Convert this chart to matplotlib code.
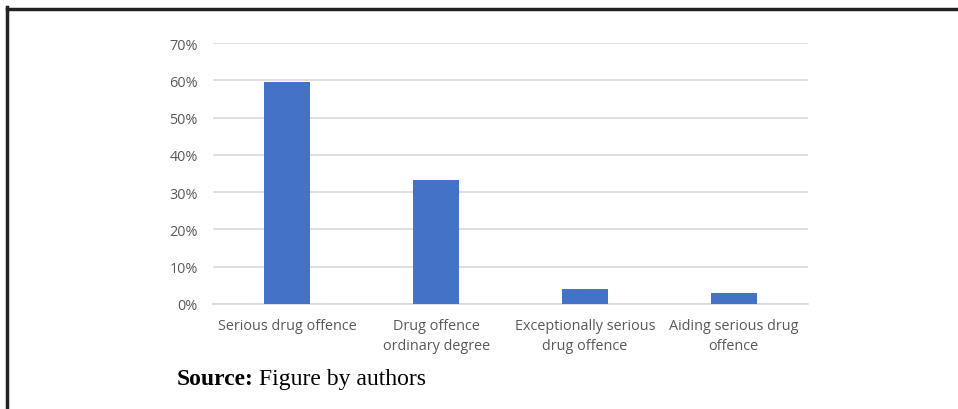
import matplotlib
matplotlib.use("Agg")
import matplotlib.pyplot as plt
from matplotlib.lines import Line2D
from matplotlib.ticker import PercentFormatter

# Datos
CATEGORIES = [
    "Serious drug offence",
    "Drug offence\nordinary degree",
    "Exceptionally serious\ndrug offence",
    "Aiding serious drug\noffence",
]
SHARES = [0.595, 0.333, 0.039, 0.029]
Y_TICKS = [0.0, 0.1, 0.2, 0.3, 0.4, 0.5, 0.6, 0.7]

BAR_COLOR = "#4472C4"
GRID_COLOR = "#D9D9D9"
TEXT_COLOR = "#595959"

W, H = 958, 410
fig = plt.figure(figsize=(W / 100, H / 100), dpi=100)
fig.patch.set_facecolor("white")

ax = fig.add_axes([213 / W, 1 - 305 / H, (808 - 213) / W, (305 - 44) / H])
x = range(len(CATEGORIES))
ax.bar(x, SHARES, width=0.31, color=BAR_COLOR, zorder=3)

ax.set_xlim(-0.5, len(CATEGORIES) - 0.5)
ax.set_ylim(0, 0.7)
ax.set_yticks(Y_TICKS)
ax.yaxis.set_major_formatter(PercentFormatter(1.0, decimals=0))
ax.set_xticks(list(x))
ax.set_xticklabels(CATEGORIES, linespacing=1.5)

for side in ["top", "right", "left"]:
    ax.spines[side].set_visible(False)
ax.spines["bottom"].set_color(GRID_COLOR)
ax.spines["bottom"].set_linewidth(1.2)
ax.grid(axis="y", color=GRID_COLOR, linewidth=1.2, zorder=0)
ax.tick_params(axis="both", length=0, colors=TEXT_COLOR, labelsize=10.4)
ax.tick_params(axis="y", pad=11)
ax.tick_params(axis="x", pad=10)
for lbl in ax.get_xticklabels() + ax.get_yticklabels():
    lbl.set_fontfamily("Open Sans")

# Fuente
fig.text(177 / W, 1 - 380 / H, "Source:", fontsize=17, fontweight="bold",
         family="Liberation Serif", va="center", ha="left")
fig.text(259 / W, 1 - 380 / H, "Figure by authors", fontsize=17,
         family="Liberation Serif", va="center", ha="left")

# Marco
fig.add_artist(Line2D([7 / W, 1], [1 - 9.5 / H, 1 - 9.5 / H], color="#222222", linewidth=2.5))
fig.add_artist(Line2D([7 / W, 7 / W], [0, 1 - 8 / H], color="#222222", linewidth=2.5))

fig.savefig("out.png", dpi=100, facecolor=fig.get_facecolor())
